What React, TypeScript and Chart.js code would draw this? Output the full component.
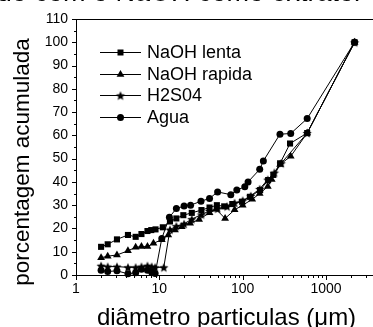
import React, { useEffect, useRef } from "react";
import { Chart, registerables } from "chart.js";

Chart.register(...registerables);

// ---- data ----
const seriesNames = ["NaOH lenta", "NaOH rapida", "H2S04", "Agua"];

const lentaX = [2, 2.4, 3.1, 4.2, 5.2, 6.1, 7.2, 8, 9, 11, 13.4, 16, 19.4, 24.5, 32, 40, 49, 60, 75, 98, 122, 162, 202, 233, 281, 370, 594, 2200];
const lentaY = [12.1, 13.2, 15.3, 17.2, 16.4, 17.6, 18.9, 19.3, 19.6, 20.5, 23, 24.3, 25.7, 26.7, 27.9, 29, 30, 29.5, 30.5, 31.5, 33.6, 36.5, 40.8, 43, 48, 56.5, 61, 100];

const rapidaX = [2, 2.4, 3.1, 4.2, 5.2, 6.1, 7.2, 8.5, 10.7, 12.8, 15.4, 18.6, 23.4, 30, 40, 48, 61.5, 80, 100, 130, 160, 200, 223, 281, 377, 594, 2200];
const rapidaY = [7.4, 8.1, 8.6, 10.4, 11.9, 12.2, 12.2, 13.6, 15.2, 17.2, 19.3, 20.7, 22.2, 23.9, 26.7, 28.2, 24.3, 28, 30, 32.5, 35, 38, 41, 47.5, 51, 61, 100];

const h2so4X = [2, 2.4, 3.1, 4.2, 5.2, 6.1, 7.2, 8.1, 8.9, 11.3, 13.4, 16, 19.8, 24.5, 32, 40, 50, 65, 80, 100, 125, 160, 200, 240, 290, 594, 2200];
const h2so4Y = [4, 3.6, 3.6, 3.3, 3.3, 3.6, 4, 3.6, 3.3, 3.3, 19.5, 21, 22, 24, 26, 27.5, 28.5, 29.5, 31, 32, 34, 37, 41, 44, 48, 61, 100];

const aguaX = [2, 2.4, 3.1, 4.2, 5.2, 6.1, 7.2, 8.1, 8.9, 10.7, 13.2, 16, 19.8, 23.7, 31.6, 40, 50, 72, 85, 106, 116, 160, 177, 280, 377, 594, 2200];
const aguaY = [2, 1.5, 1.8, 0.5, 1.0, 2.5, 2, 1.2, 0.6, 15.7, 24.8, 28.6, 29.6, 30, 31.7, 32.9, 35.7, 34.5, 36.5, 37.9, 40, 45.4, 49, 60.5, 60.8, 67.2, 100];

const xMajorLabels = [1, 10, 100, 1000];
const yMin = 0;
const yMax = 110;
const yStep = 10;
const xMin = 1;
const xMax = 3660;

const titleText = "Distribuição granulométrica do resíduo obtido com o NaOH como extrator";
const xTitle = "diâmetro particulas (μm)";
const yTitle = "porcentagem acumulada";

const FONT = "'Liberation Sans', Arial, sans-serif";

function makeStar(r: number): HTMLCanvasElement {
  const c = document.createElement("canvas");
  const s = Math.ceil(r * 2) + 2;
  c.width = s;
  c.height = s;
  const g = c.getContext("2d")!;
  g.fillStyle = "#000";
  g.beginPath();
  for (let i = 0; i < 10; i++) {
    const rad = i % 2 === 0 ? r : r * 0.45;
    const a = -Math.PI / 2 + (i * Math.PI) / 5;
    const px = s / 2 + rad * Math.cos(a);
    const py = s / 2 + 0.5 + rad * Math.sin(a);
    if (i === 0) g.moveTo(px, py);
    else g.lineTo(px, py);
  }
  g.closePath();
  g.fill();
  return c;
}

function drawMarker(ctx: CanvasRenderingContext2D, kind: string, x: number, y: number, star: HTMLCanvasElement) {
  ctx.save();
  ctx.fillStyle = "#000";
  ctx.beginPath();
  if (kind === "rect") {
    ctx.fillRect(x - 3, y - 3, 6, 6);
  } else if (kind === "triangle") {
    const r = 4.5;
    ctx.moveTo(x, y - r);
    ctx.lineTo(x + r * 0.866, y + r * 0.5);
    ctx.lineTo(x - r * 0.866, y + r * 0.5);
    ctx.closePath();
    ctx.fill();
  } else if (kind === "star") {
    ctx.drawImage(star, x - star.width / 2, y - star.height / 2);
  } else {
    ctx.arc(x, y, 3.5, 0, Math.PI * 2);
    ctx.fill();
  }
  ctx.restore();
}

export default function App() {
  const ref = useRef<HTMLCanvasElement | null>(null);

  useEffect(() => {
    if (!ref.current) return;
    const star = makeStar(4.8);
    const kinds = ["rect", "triangle", "star", "circle"];

    const toPts = (xs: number[], ys: number[]) => xs.map((x, i) => ({ x, y: ys[i] }));

    const decor = {
      id: "decor",
      afterDraw(chart: any) {
        const ctx: CanvasRenderingContext2D = chart.ctx;
        const { left, right, top, bottom } = chart.chartArea;
        const xs = chart.scales.x;
        const ys = chart.scales.y;
        ctx.save();
        ctx.strokeStyle = "#000";
        ctx.lineWidth = 1;
        ctx.beginPath();
        // axes and top frame
        ctx.moveTo(left + 0.5, top);
        ctx.lineTo(left + 0.5, bottom + 0.5);
        ctx.lineTo(right, bottom + 0.5);
        ctx.moveTo(left, top + 0.5);
        ctx.lineTo(right, top + 0.5);
        // y ticks
        for (let v = yMin; v <= yMax; v += yStep / 2) {
          const py = Math.round(ys.getPixelForValue(v)) + 0.5;
          const major = v % yStep === 0;
          ctx.moveTo(left - (major ? 4 : 2), py);
          ctx.lineTo(left, py);
        }
        // x ticks
        for (let d = 1; d <= 1000; d *= 10) {
          for (let m = 1; m <= 9; m++) {
            const v = d * m;
            if (v > xMax) break;
            const px = Math.round(xs.getPixelForValue(v)) + 0.5;
            const len = m === 1 ? 5 : 3;
            ctx.moveTo(px, bottom);
            ctx.lineTo(px, bottom + len);
          }
        }
        ctx.stroke();

        // axis titles
        ctx.fillStyle = "#000";
        ctx.font = `24px ${FONT}`;
        ctx.textAlign = "center";
        ctx.textBaseline = "alphabetic";
        ctx.fillText(xTitle, (left + right) / 2 + 2, 325);
        ctx.save();
        ctx.translate(29, 162);
        ctx.rotate(-Math.PI / 2);
        ctx.font = `22.5px ${FONT}`;
        ctx.fillText(yTitle, 0, 0);
        ctx.restore();

        // legend
        const rowY0 = 52;
        const rowGap = 21.7;
        chart.data.datasets.forEach((ds: any, i: number) => {
          const y = Math.round(rowY0 + i * rowGap) + 0.5;
          ctx.beginPath();
          ctx.moveTo(100, y);
          ctx.lineTo(141, y);
          ctx.stroke();
          drawMarker(ctx, kinds[i], 120.5, y, star);
          ctx.font = `18px ${FONT}`;
          ctx.textAlign = "left";
          ctx.textBaseline = "middle";
          ctx.fillText(ds.label, 147, y + 1);
        });
        ctx.restore();
      },
    };

    const common = {
      borderColor: "#000",
      backgroundColor: "#000",
      pointBorderColor: "#000",
      pointBackgroundColor: "#000",
      borderWidth: 1,
      pointBorderWidth: 0,
      showLine: true,
      tension: 0,
      clip: false as any,
    };

    const chart = new Chart(ref.current, {
      type: "line",
      data: {
        datasets: [
          { ...common, label: seriesNames[0], data: toPts(lentaX, lentaY), pointStyle: "rect", pointRadius: 4.3 },
          { ...common, label: seriesNames[1], data: toPts(rapidaX, rapidaY), pointStyle: "triangle", pointRadius: 4.5 },
          { ...common, label: seriesNames[2], data: toPts(h2so4X, h2so4Y), pointStyle: star as any, pointRadius: 4.8 },
          { ...common, label: seriesNames[3], data: toPts(aguaX, aguaY), pointStyle: "circle", pointRadius: 3.5 },
        ],
      },
      options: {
        responsive: false,
        animation: false,
        devicePixelRatio: 1,
        layout: { padding: { left: 0, top: 19, right: 27, bottom: 0 } },
        plugins: { legend: { display: false }, tooltip: { enabled: false }, title: { display: false } },
        scales: {
          x: {
            type: "logarithmic",
            min: xMin,
            max: xMax,
            grid: { display: false, drawTicks: false },
            border: { display: false },
            ticks: {
              autoSkip: false,
              maxRotation: 0,
              padding: 6,
              color: "#000",
              font: { size: 14, family: FONT },
              callback: (v: any) => (xMajorLabels.includes(Number(v)) ? String(v) : ""),
            },
            afterFit: (s: any) => {
              s.height = 52;
            },
          },
          y: {
            type: "linear",
            min: yMin,
            max: yMax,
            grid: { display: false, drawTicks: false },
            border: { display: false },
            ticks: {
              stepSize: yStep,
              padding: 8,
              color: "#000",
              font: { size: 14, family: FONT },
            },
            afterFit: (s: any) => {
              s.width = 76;
            },
          },
        },
      },
      plugins: [decor],
    });
    return () => chart.destroy();
  }, []);

  return (
    <div style={{ position: "fixed", left: 0, top: 0, width: 373, height: 327, overflow: "hidden", background: "#fff" }}>
      <canvas ref={ref} width={400} height={327} style={{ position: "absolute", left: 0, top: 0, width: 400, height: 327 }} />
      <div
        style={{
          position: "absolute",
          right: 10,
          top: -23,
          font: `27px ${FONT}`,
          lineHeight: "30px",
          whiteSpace: "nowrap",
          color: "#000",
        }}
      >
        {titleText}
      </div>
    </div>
  );
}
